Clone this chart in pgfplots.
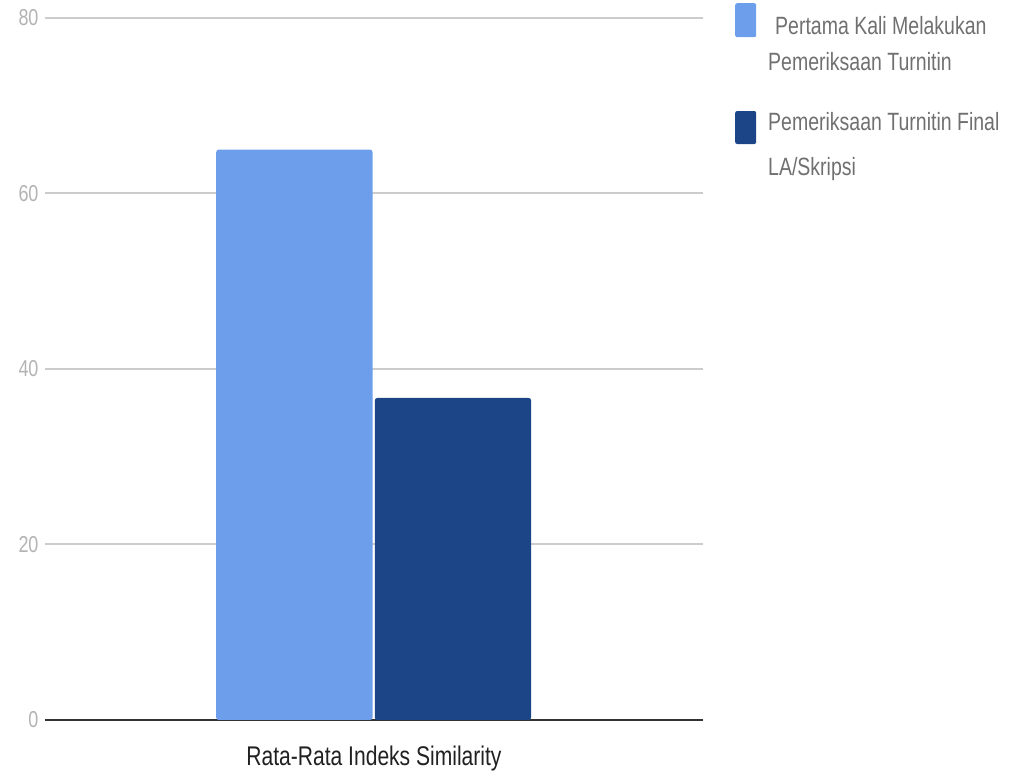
\documentclass[border=0pt]{standalone}
\usepackage{fontspec}
\setmainfont{Liberation Sans}[FakeStretch=0.78]
\usepackage{pgfplots}
\pgfplotsset{compat=1.18}
\definecolor{barlight}{HTML}{6D9EEB}
\definecolor{bardark}{HTML}{1C4587}
\definecolor{gridgray}{HTML}{CCCCCC}
\definecolor{ticklbl}{HTML}{B3B3B3}
\definecolor{legtext}{HTML}{707070}
\definecolor{axisdark}{HTML}{333333}
% legend swatches, each with its own vertical offset
\pgfplotsset{
  swatchA/.style={legend image code/.code={%
    \fill[##1, rounded corners=2pt] (0pt,7pt) rectangle (21pt,41pt);}},
  swatchB/.style={legend image code/.code={%
    \fill[##1, rounded corners=2pt] (0pt,0.5pt) rectangle (21pt,33.5pt);}},
}
\begin{document}
\begin{tikzpicture}
\begin{axis}[
  name=ax,
  scale only axis,
  width=658pt, height=702pt,
  xmin=-1, xmax=1, ymin=0, ymax=80,
  ytick={0,20,40,60,80},
  xtick={0},
  xticklabels={Rata-Rata Indeks Similarity},
  axis line style={draw=none},
  tick style={draw=none},
  ymajorgrids,
  grid style={gridgray, line width=2pt},
  extra y ticks={0},
  extra y tick labels={},
  extra y tick style={grid style={axisdark, line width=2.5pt}},
  /pgf/number format/assume math mode=true,
  yticklabel style={font=\fontsize{23}{23}\selectfont, text=ticklbl, xshift=-3pt},
  xticklabel style={font=\fontsize{27}{27}\selectfont, text=black!87, yshift=-18pt},
  ybar, bar width=0.475,
  clip=false,
  legend cell align=left,
  legend style={
    draw=none, fill=none,
    at={(1,1)}, anchor=north west,
    xshift=32pt, yshift=15pt,
    inner sep=0pt,
    column sep=12pt, row sep=39pt,
    nodes={inner sep=0pt, align=left, text=legtext,
           font=\fontsize{25}{39}\selectfont},
  },
]
% first check vs. final check of the thesis
\addplot[fill=barlight, draw=none, bar shift=-0.242, rounded corners=2.5pt, swatchA]
  coordinates {(0,65)};
\addplot[fill=bardark, draw=none, bar shift=0.240, rounded corners=2.5pt, swatchB]
  coordinates {(0,36.7)};
\legend{{\hspace*{7pt}Pertama Kali Melakukan\\[-3pt]Pemeriksaan Turnitin},
        {Pemeriksaan Turnitin Final\\[6pt]LA/Skripsi}}
\end{axis}
\pgfresetboundingbox
\path ([shift={(-45pt,-57pt)}]ax.south west) rectangle ([shift={(306pt,18pt)}]ax.north east);
\end{tikzpicture}
\end{document}
